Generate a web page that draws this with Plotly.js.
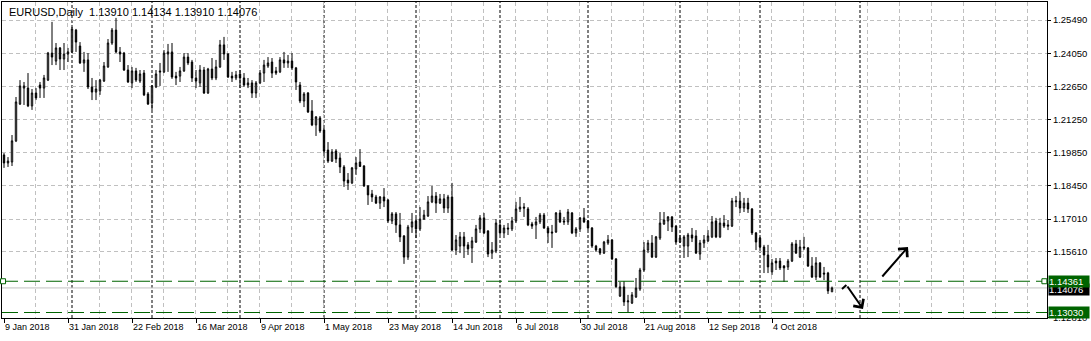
<!DOCTYPE html>
<html><head><meta charset="utf-8">
<script src="https://cdn.plot.ly/plotly-3.0.1.min.js"></script>
<style>html,body{margin:0;padding:0;background:#fff;}#chart{width:1091px;height:341px;}</style>
</head><body><div id="chart"></div>
<script>
const symbolTitle = "EURUSD,Daily";
const lastQuote = ["1.13910", "1.14134", "1.13910", "1.14076"];

const openP = [1.1974,1.1940,1.1944,1.2034,1.2191,1.2259,1.2259,1.2183,1.2238,1.2272,
1.2259,1.2293,1.2408,1.2374,1.2430,1.2383,1.2404,1.2413,1.2506,1.2438,
1.2366,1.2379,1.2264,1.2242,1.2247,1.2289,1.2349,1.2451,1.2506,1.2413,
1.2408,1.2336,1.2281,1.2332,1.2289,1.2323,1.2234,1.2195,1.2264,1.2332,
1.2328,1.2404,1.2413,1.2310,1.2310,1.2332,1.2391,1.2370,1.2302,1.2281,
1.2336,1.2238,1.2340,1.2302,1.2349,1.2443,1.2404,1.2310,1.2302,1.2319,
1.2302,1.2272,1.2281,1.2238,1.2281,1.2323,1.2353,1.2370,1.2332,1.2328,
1.2379,1.2366,1.2374,1.2345,1.2272,1.2204,1.2238,1.2161,1.2102,1.2132,
1.2080,1.1995,1.1948,1.1991,1.1961,1.1923,1.1867,1.1855,1.1914,1.1944,
1.1927,1.1842,1.1808,1.1795,1.1769,1.1795,1.1782,1.1693,1.1723,1.1676,
1.1629,1.1539,1.1667,1.1693,1.1659,1.1701,1.1714,1.1774,1.1799,1.1769,
1.1787,1.1748,1.1795,1.1569,1.1586,1.1625,1.1591,1.1578,1.1603,1.1659,
1.1706,1.1650,1.1556,1.1565,1.1676,1.1642,1.1663,1.1659,1.1693,1.1744,
1.1752,1.1744,1.1680,1.1676,1.1689,1.1718,1.1663,1.1646,1.1646,1.1727,
1.1693,1.1689,1.1727,1.1642,1.1659,1.1706,1.1693,1.1663,1.1586,1.1574,
1.1556,1.1599,1.1612,1.1531,1.1373,1.1412,1.1348,1.1343,1.1369,1.1403,
1.1484,1.1569,1.1599,1.1539,1.1620,1.1680,1.1693,1.1710,1.1671,1.1603,
1.1586,1.1586,1.1633,1.1629,1.1552,1.1599,1.1608,1.1625,1.1693,1.1625,
1.1684,1.1676,1.1671,1.1774,1.1778,1.1748,1.1769,1.1744,1.1642,1.1620,
1.1582,1.1548,1.1476,1.1522,1.1522,1.1501,1.1497,1.1522,1.1595,1.1539,
1.1582,1.1578,1.1501,1.1454,1.1514,1.1471,1.1471,1.13910];

const highP = [1.1982,1.1965,1.2059,1.2221,1.2293,1.2285,1.2323,1.2255,1.2259,1.2285,
1.2315,1.2413,1.2541,1.2451,1.2434,1.2451,1.2430,1.2519,1.2511,1.2455,
1.2413,1.2408,1.2302,1.2293,1.2298,1.2370,1.2468,1.2515,1.2558,1.2434,
1.2413,1.2357,1.2349,1.2345,1.2336,1.2336,1.2242,1.2272,1.2336,1.2366,
1.2421,1.2447,1.2451,1.2328,1.2349,1.2408,1.2408,1.2379,1.2336,1.2357,
1.2349,1.2345,1.2387,1.2379,1.2464,1.2477,1.2408,1.2328,1.2332,1.2336,
1.2323,1.2302,1.2293,1.2289,1.2336,1.2379,1.2391,1.2387,1.2349,1.2391,
1.2413,1.2400,1.2408,1.2349,1.2285,1.2242,1.2242,1.2208,1.2140,1.2140,
1.2089,1.2029,1.1999,1.1999,1.1982,1.1931,1.1897,1.1923,1.1965,1.1999,
1.1931,1.1846,1.1825,1.1804,1.1799,1.1833,1.1787,1.1731,1.1731,1.1727,
1.1633,1.1676,1.1727,1.1706,1.1752,1.1740,1.1799,1.1842,1.1816,1.1808,
1.1808,1.1804,1.1855,1.1633,1.1646,1.1646,1.1603,1.1625,1.1676,1.1718,
1.1727,1.1654,1.1603,1.1701,1.1697,1.1676,1.1684,1.1710,1.1774,1.1795,
1.1769,1.1752,1.1689,1.1710,1.1727,1.1727,1.1671,1.1676,1.1731,1.1740,
1.1710,1.1744,1.1731,1.1667,1.1710,1.1748,1.1697,1.1667,1.1591,1.1578,
1.1608,1.1633,1.1616,1.1535,1.1433,1.1437,1.1378,1.1390,1.1450,1.1493,
1.1603,1.1612,1.1633,1.1629,1.1731,1.1731,1.1714,1.1714,1.1676,1.1633,
1.1633,1.1642,1.1663,1.1654,1.1612,1.1633,1.1654,1.1714,1.1706,1.1706,
1.1718,1.1697,1.1791,1.1799,1.1816,1.1791,1.1791,1.1748,1.1646,1.1625,
1.1591,1.1591,1.1531,1.1535,1.1535,1.1505,1.1531,1.1603,1.1612,1.1612,
1.1625,1.1582,1.1539,1.1539,1.1518,1.1497,1.1476,1.14134];

const lowP = [1.1919,1.1923,1.1927,1.2029,1.2187,1.2187,1.2178,1.2166,1.2208,1.2217,
1.2217,1.2289,1.2357,1.2357,1.2336,1.2336,1.2370,1.2408,1.2413,1.2362,
1.2328,1.2255,1.2208,1.2208,1.2230,1.2285,1.2345,1.2443,1.2408,1.2370,
1.2332,1.2281,1.2259,1.2285,1.2281,1.2225,1.2187,1.2166,1.2259,1.2268,
1.2323,1.2328,1.2298,1.2272,1.2285,1.2328,1.2357,1.2285,1.2259,1.2264,
1.2234,1.2234,1.2293,1.2293,1.2345,1.2379,1.2302,1.2285,1.2293,1.2259,
1.2264,1.2259,1.2217,1.2217,1.2276,1.2285,1.2345,1.2302,1.2315,1.2323,
1.2345,1.2345,1.2336,1.2251,1.2195,1.2178,1.2153,1.2097,1.2055,1.2068,
1.1974,1.1940,1.1944,1.1940,1.1897,1.1838,1.1825,1.1850,1.1889,1.1923,
1.1838,1.1761,1.1774,1.1765,1.1744,1.1752,1.1684,1.1680,1.1642,1.1603,
1.1510,1.1527,1.1642,1.1620,1.1650,1.1697,1.1710,1.1769,1.1727,1.1765,
1.1727,1.1727,1.1565,1.1548,1.1556,1.1535,1.1548,1.1514,1.1599,1.1642,
1.1637,1.1539,1.1531,1.1556,1.1633,1.1620,1.1633,1.1650,1.1684,1.1731,
1.1710,1.1671,1.1659,1.1616,1.1680,1.1659,1.1599,1.1578,1.1642,1.1684,
1.1676,1.1676,1.1637,1.1625,1.1646,1.1684,1.1654,1.1578,1.1561,1.1548,
1.1552,1.1591,1.1527,1.1408,1.1369,1.1331,1.1301,1.1339,1.1365,1.1395,
1.1476,1.1556,1.1535,1.1535,1.1612,1.1676,1.1650,1.1646,1.1591,1.1599,
1.1535,1.1539,1.1603,1.1552,1.1527,1.1578,1.1603,1.1620,1.1620,1.1620,
1.1663,1.1654,1.1667,1.1752,1.1727,1.1731,1.1727,1.1633,1.1569,1.1569,
1.1471,1.1471,1.1463,1.1484,1.1484,1.1433,1.1484,1.1518,1.1552,1.1535,
1.1569,1.1497,1.1450,1.1441,1.1450,1.1441,1.1382,1.13910];

const closeP = [1.1940,1.1948,1.2034,1.2200,1.2268,1.2268,1.2183,1.2238,1.2217,1.2259,
1.2302,1.2408,1.2391,1.2430,1.2383,1.2404,1.2413,1.2511,1.2455,1.2366,
1.2379,1.2264,1.2242,1.2255,1.2293,1.2353,1.2451,1.2506,1.2413,1.2404,
1.2336,1.2285,1.2332,1.2293,1.2319,1.2230,1.2191,1.2268,1.2319,1.2328,
1.2408,1.2413,1.2306,1.2302,1.2332,1.2391,1.2366,1.2302,1.2289,1.2336,
1.2238,1.2340,1.2302,1.2349,1.2443,1.2404,1.2306,1.2302,1.2315,1.2302,
1.2272,1.2281,1.2238,1.2281,1.2323,1.2357,1.2366,1.2323,1.2323,1.2379,
1.2366,1.2374,1.2345,1.2285,1.2204,1.2234,1.2157,1.2102,1.2136,1.2076,
1.1991,1.1948,1.1987,1.1957,1.1923,1.1863,1.1855,1.1919,1.1940,1.1925,
1.1842,1.1804,1.1795,1.1769,1.1795,1.1778,1.1693,1.1723,1.1676,1.1625,
1.1539,1.1667,1.1689,1.1659,1.1701,1.1718,1.1774,1.1799,1.1769,1.1787,
1.1748,1.1795,1.1569,1.1612,1.1625,1.1586,1.1574,1.1608,1.1659,1.1706,
1.1642,1.1552,1.1569,1.1684,1.1642,1.1663,1.1659,1.1693,1.1744,1.1752,
1.1748,1.1676,1.1671,1.1689,1.1718,1.1663,1.1642,1.1642,1.1727,1.1689,
1.1689,1.1731,1.1642,1.1659,1.1706,1.1689,1.1663,1.1586,1.1569,1.1556,
1.1603,1.1612,1.1531,1.1413,1.1412,1.1348,1.1352,1.1378,1.1407,1.1484,
1.1569,1.1599,1.1539,1.1625,1.1684,1.1697,1.1710,1.1667,1.1603,1.1620,
1.1625,1.1633,1.1620,1.1556,1.1599,1.1612,1.1629,1.1689,1.1625,1.1684,
1.1671,1.1671,1.1778,1.1778,1.1748,1.1769,1.1744,1.1642,1.1603,1.1582,
1.1548,1.1497,1.1514,1.1514,1.1493,1.1493,1.1522,1.1595,1.1556,1.1582,
1.1578,1.1501,1.1454,1.1514,1.1454,1.1467,1.1395,1.14076];

// date labels shown under the time axis, and the bar they sit on
const tickBars = [0, 16, 32, 48, 64, 80, 96, 112, 128, 144, 160, 176, 192];
const tickLabels = ["9 Jan 2018", "31 Jan 2018", "22 Feb 2018", "16 Mar 2018", "9 Apr 2018",
  "1 May 2018", "23 May 2018", "14 Jun 2018", "6 Jul 2018", "30 Jul 2018",
  "21 Aug 2018", "12 Sep 2018", "4 Oct 2018"];
// price scale
const priceTicks = [1.25490, 1.24050, 1.22650, 1.21250, 1.19850, 1.18450, 1.17010, 1.15610, 1.12810];
// horizontal lines drawn by the trader
const levelUpper = 1.14361;
const levelLower = 1.13030;
const bidPrice = 1.14076;
// first bar of each month (period separators)
const monthStarts = [17, 37, 59, 80, 103, 124, 146, 169, 189, 214];

const barIdx = openP.map((_, i) => i);
const gridBars = [];
for (let g = 7.75; g < 261; g += 8) gridBars.push(g);

const FONT = 'Liberation Sans, Arial, sans-serif';
const GREEN = '#006400';

const trace = {
  type: 'candlestick',
  x: barIdx, open: openP, high: highP, low: lowP, close: closeP,
  increasing: {line: {color: '#000', width: 1}, fillcolor: '#ffffff'},
  decreasing: {line: {color: '#000', width: 1}, fillcolor: '#000000'},
  whiskerwidth: 0,
  hoverinfo: 'skip',
  showlegend: false
};

const shapes = [];
monthStarts.forEach(m => shapes.push({type: 'line', xref: 'x', yref: 'paper', x0: m, x1: m, y0: 0, y1: 1,
  line: {color: '#000', width: 1, dash: '3px,2px'}, layer: 'below'}));
shapes.push({type: 'line', xref: 'paper', yref: 'y', x0: 0, x1: 1, y0: bidPrice, y1: bidPrice,
  line: {color: '#c0c0c0', width: 1}, layer: 'below'});
[levelUpper, levelLower].forEach(v => shapes.push({type: 'line', xref: 'paper', yref: 'y', x0: 0, x1: 1, y0: v, y1: v,
  line: {color: GREEN, width: 1.2, dash: '16px,6px'}}));
// selection handles on the upper level line
[0.001, 0.9975].forEach(px => shapes.push({type: 'rect', xref: 'paper', yref: 'y',
  xsizemode: 'pixel', ysizemode: 'pixel', xanchor: px, yanchor: levelUpper,
  x0: -2.5, x1: 2.5, y0: -2.5, y1: 2.5, line: {color: GREEN, width: 1}, fillcolor: '#fff'}));
// hook of the down arrow
shapes.push({type: 'line', xref: 'x', yref: 'y', x0: 209.5, y0: 1.1403, x1: 210.6, y1: 1.1420,
  line: {color: '#000', width: 2}});

const annotations = [
  {xref: 'paper', yref: 'paper', x: 0, y: 1, xanchor: 'left', yanchor: 'top', xshift: 5, yshift: -2,
   text: symbolTitle + '  ' + lastQuote.join(' '), showarrow: false, font: {family: FONT, size: 11, color: '#000'}},
  {xref: 'paper', yref: 'y', x: 1, y: bidPrice, xanchor: 'left', yanchor: 'middle', xshift: 1, yshift: -2,
   text: bidPrice.toFixed(5) + '  ', showarrow: false, bgcolor: '#000', borderpad: 0,
   font: {family: FONT, size: 9.5, color: '#fff'}},
  {xref: 'paper', yref: 'y', x: 1, y: levelUpper, xanchor: 'left', yanchor: 'middle', xshift: 1,
   text: levelUpper.toFixed(5) + '  ', showarrow: false, bgcolor: GREEN, borderpad: 0,
   font: {family: FONT, size: 9.5, color: '#fff'}},
  {xref: 'paper', yref: 'y', x: 1, y: levelLower, xanchor: 'left', yanchor: 'middle', xshift: 1,
   text: levelLower.toFixed(5) + '  ', showarrow: false, bgcolor: GREEN, borderpad: 0,
   font: {family: FONT, size: 9.5, color: '#fff'}},
  {xref: 'x', yref: 'y', x: 226, y: 1.1582, axref: 'x', ayref: 'y', ax: 219.25, ay: 1.1450,
   text: '', showarrow: true, arrowhead: 4, arrowsize: 1.2, arrowwidth: 2, arrowcolor: '#000'},
  {xref: 'x', yref: 'y', x: 214.75, y: 1.1318, axref: 'x', ayref: 'y', ax: 210.6, ay: 1.1420,
   text: '', showarrow: true, arrowhead: 4, arrowsize: 1.2, arrowwidth: 2, arrowcolor: '#000'}
];

const layout = {
  width: 1091, height: 341,
  margin: {l: 2, r: 44, t: 2, b: 23, pad: 0},
  paper_bgcolor: '#fff', plot_bgcolor: '#fff',
  showlegend: false,
  boxgap: 0.5,
  font: {family: FONT, size: 9.5, color: '#000'},
  xaxis: {
    type: 'linear', range: [-0.5, 260.75], fixedrange: true,
    tickmode: 'array', tickvals: tickBars, ticktext: tickLabels,
    ticks: 'outside', ticklen: 4, tickcolor: '#000', tickwidth: 1,
    ticklabelposition: 'outside right',
    tickfont: {family: FONT, size: 9, color: '#000'},
    showgrid: false, zeroline: false,
    showline: true, mirror: true, linecolor: '#000', linewidth: 1,
    minor: {tickmode: 'array', tickvals: gridBars, showgrid: true, gridcolor: '#c0c0c0', griddash: '4px,3px', gridwidth: 1, ticks: ''},
    rangeslider: {visible: false}
  },
  yaxis: {
    side: 'right', range: [1.12795, 1.26257], fixedrange: true,
    tickmode: 'array', tickvals: priceTicks, ticktext: priceTicks.map(v => v.toFixed(5)),
    ticks: 'outside', ticklen: 3, tickcolor: '#000',
    tickfont: {family: FONT, size: 9.5, color: '#000'},
    showgrid: true, gridcolor: '#c0c0c0', griddash: '4px,3px', gridwidth: 1,
    zeroline: false, showline: true, mirror: true, linecolor: '#000', linewidth: 1
  },
  shapes: shapes,
  annotations: annotations
};

Plotly.newPlot('chart', [trace], layout, {staticPlot: true, displayModeBar: false});
</script>
</body></html>
